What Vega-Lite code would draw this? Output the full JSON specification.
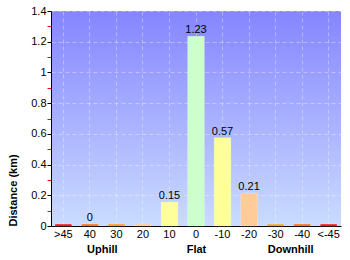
{
  "$schema": "https://vega.github.io/schema/vega-lite/v6.json",
  "width": 290,
  "height": 215,
  "autosize": "none",
  "padding": {"left": 51, "top": 11, "right": 9, "bottom": 34},
  "background": {"gradient": "linear", "x1": 0, "y1": 0, "x2": 0, "y2": 1, "stops": [{"offset": 0, "color": "#6464ff"}, {"offset": 1, "color": "#c4d6ff"}]},
  "config": {
    "font": "Liberation Sans",
    "view": {"stroke": null, "fill": {"gradient": "linear", "x1": 0, "y1": 0, "x2": 0, "y2": 1, "stops": [{"offset": 0, "color": "#8585ff"}, {"offset": 1, "color": "#cadcff"}]}}
  },
  "layer": [
    {
      "data": {"values": [
        {"cat": ">45", "value": 0.012, "label": ""},
        {"cat": "40", "value": 0.012, "label": "0"},
        {"cat": "30", "value": 0.012, "label": ""},
        {"cat": "20", "value": 0.012, "label": ""},
        {"cat": "10", "value": 0.155, "label": "0.15"},
        {"cat": "0", "value": 1.235, "label": "1.23"},
        {"cat": "-10", "value": 0.575, "label": "0.57"},
        {"cat": "-20", "value": 0.215, "label": "0.21"},
        {"cat": "-30", "value": 0.012, "label": ""},
        {"cat": "-40", "value": 0.012, "label": ""},
        {"cat": "<-45", "value": 0.012, "label": ""}
      ]},
      "encoding": {
        "x": {"field": "cat", "type": "nominal", "sort": null,
          "scale": {"paddingInner": 0.37, "paddingOuter": 0.15},
          "axis": {"title": null, "labelAngle": 0, "labelColor": "black", "labelFontSize": 11, "labelPadding": 2, "ticks": false, "domain": true, "domainColor": "black", "domainWidth": 1, "grid": true, "gridColor": "white", "gridOpacity": 0.35, "gridDash": [4, 3]}},
        "y": {"field": "value", "type": "quantitative",
          "scale": {"domain": [0, 1.4], "nice": false},
          "axis": {"title": "Distance (km)", "titleFontSize": 11, "titleFontWeight": "bold", "titleColor": "black", "titleAnchor": "start", "titlePadding": 12,
            "values": [0, 0.1, 0.2, 0.3, 0.4, 0.5, 0.6, 0.7, 0.8, 0.9, 1, 1.1, 1.2, 1.3, 1.4],
            "format": "~g",
            "labelOverlap": false,
            "labelExpr": "round(datum.value*10) % 2 === 0 ? datum.label : ''",
            "labelColor": "black", "labelFontSize": 11, "labelPadding": 1,
            "domain": true, "domainColor": "black", "domainWidth": 1,
            "ticks": true, "tickWidth": 1,
            "tickColor": {"condition": {"test": "round(datum.value*10) % 2 === 0", "value": "black"}, "value": "red"},
            "tickSize": 4,
            "grid": true, "gridColor": "white", "gridDash": [4, 3],
            "gridOpacity": {"condition": {"test": "round(datum.value*10) % 2 === 0", "value": 0.35}, "value": 0}}}
      },
      "layer": [
        {"mark": {"type": "bar", "stroke": "white", "strokeOpacity": 0.4, "strokeWidth": 0.5},
          "encoding": {"color": {"field": "cat", "type": "nominal", "legend": null,
            "scale": {"domain": [">45", "40", "30", "20", "10", "0", "-10", "-20", "-30", "-40", "<-45"],
              "range": ["#ff0000", "#ff6600", "#ff9900", "#ffcc88", "#ffff99", "#ccffcc", "#ffff99", "#ffcc99", "#ff9900", "#ff6600", "#ff0000"]}}}},
        {"mark": {"type": "text", "baseline": "bottom", "dy": -1, "fontSize": 11, "color": "black"},
          "encoding": {"text": {"field": "label"}}}
      ]
    },
    {
      "data": {"values": [{"zone": "Uphill"}, {"zone": "Flat"}, {"zone": "Downhill"}]},
      "mark": {"type": "point", "opacity": 0},
      "encoding": {
        "x": {"field": "zone", "type": "nominal", "sort": null,
          "scale": {"type": "point", "padding": 0.54},
          "axis": {"orient": "bottom", "title": null, "domain": false, "ticks": false, "grid": false, "labelAngle": 0, "labelPadding": 17, "labelFontWeight": "bold", "labelFontSize": 11, "labelColor": "black"}}
      }
    }
  ],
  "resolve": {"scale": {"x": "independent"}, "axis": {"x": "independent"}}
}
